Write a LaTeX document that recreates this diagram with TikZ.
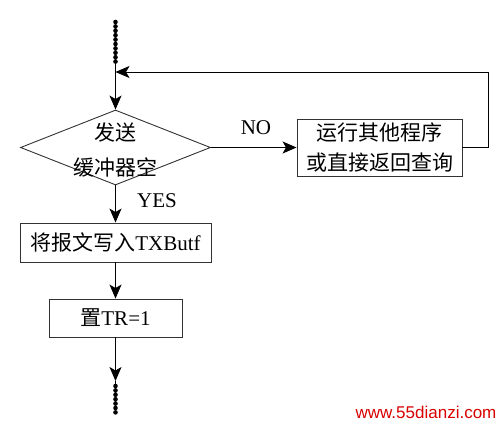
\documentclass[tikz,border=0pt]{standalone}
\usepackage{fontspec}
\setmainfont{Liberation Serif}
\newfontfamily\cjk{Noto Sans CJK SC}
\newfontfamily\wmfont{Liberation Sans}
\usetikzlibrary{arrows.meta,shapes.geometric}
\begin{document}
\begin{tikzpicture}[x=1pt,y=-1pt,
  line width=0.9pt,
  box/.style={draw=black!80, rectangle, inner sep=0pt, font=\fontsize{21}{30}\selectfont, align=center},
  arr/.style={-{Stealth[length=14pt,width=12pt,inset=3.5pt]}},
  beads/.style={line width=4.6pt, line cap=round, dash pattern=on 0pt off 4.4pt},
  lbl/.style={font=\fontsize{21}{25}\selectfont, inner sep=0pt},
  wm/.style={font=\wmfont\fontsize{17}{18}\selectfont, text=red!85!black, inner sep=0pt}]
\useasboundingbox[fill=white] (0,0) rectangle (496,423);

% nodes
\node[diamond, draw=black!80, minimum width=190pt, minimum height=75pt, inner sep=0pt] (dec) at (115.5,147.5) {};
\node[lbl] (t1) at (115.5,133) {\cjk 发送};
\node[lbl] (t2) at (115.5,167) {\cjk 缓冲器空};
\node[box, minimum width=165pt, minimum height=57pt] (other) at (379.5,147.5) {\cjk 运行其他程序\\\cjk 或直接返回查询};
\node[box, minimum width=191pt, minimum height=39pt] (write) at (115.5,242.5) {{\cjk 将报文写入}TXButf};
\node[box, minimum width=133pt, minimum height=38pt] (settr) at (115.5,318) {{\cjk 置}TR=1};
\node[lbl] (no) at (256,128) {NO};
\node[lbl] (yes) at (157,201) {YES};
\node[wm] (mark) at (426,412) {www.55dianzi.com};

% coordinates
\coordinate (top) at (115.5,22);
\coordinate (beadend) at (115.5,62);
\coordinate (merge) at (115.5,72);
\coordinate (fbR) at (488,147.5);
\coordinate (botarr) at (115.5,381);
\coordinate (bot) at (115.5,413);

% connectors
\draw[beads] (top) -- (beadend);
\draw[arr] (top) -- (dec.north);
\draw[arr] (other.east) -- (fbR) -- (fbR |- merge) -- (merge);
\draw[arr] (dec.east) -- (other.west);
\draw[arr] (dec.south) -- (write.north);
\draw[arr] (write.south) -- (settr.north);
\draw[arr] (settr.south) -- (botarr);
\draw (botarr) -- (bot);
\draw[beads] (115.5,386) -- (bot);
\end{tikzpicture}
\end{document}
